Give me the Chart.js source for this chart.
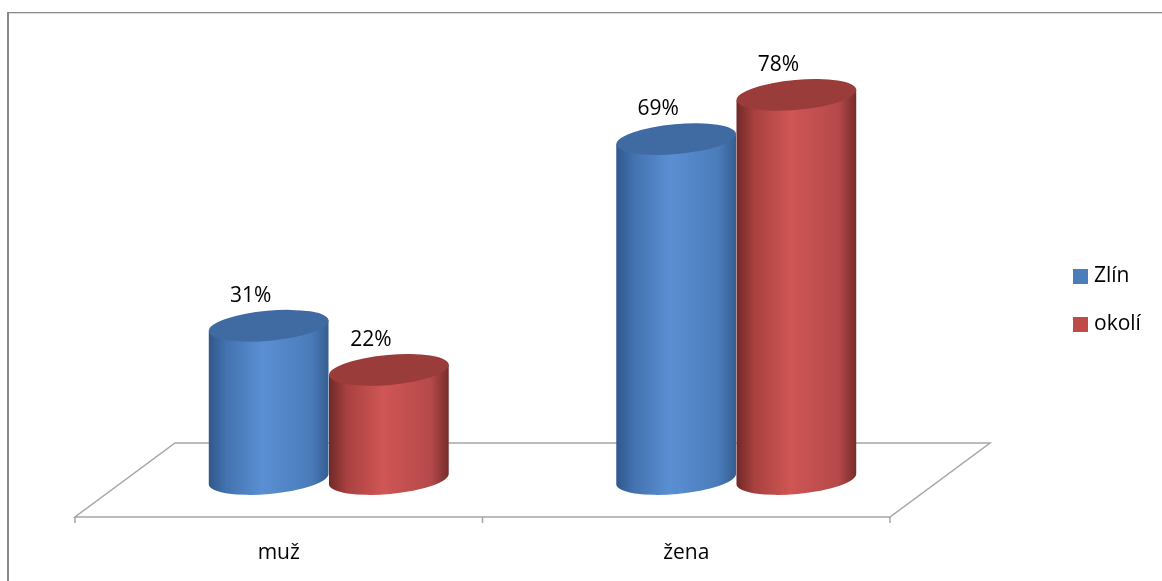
<!DOCTYPE html>
<html>
<head>
<meta charset="utf-8">
<script src="https://cdn.jsdelivr.net/npm/chart.js@4"></script>
<style>
  html, body { margin: 0; padding: 0; background: #fff; }
</style>
</head>
<body>
<canvas id="myCanvas" width="1162" height="581"></canvas>
<script>
const categories = ['muž', 'žena']
const seriesNames = ['Zlín', 'okolí']
const zlinValues = [31, 69]
const okoliValues = [22, 78]

const FONT = '"Open Sans", "Liberation Sans", sans-serif'

// side gradient stops + top colour per series
const shades = [
  { flat: '#4a7ebb', top: '#3f6ba2', side: ['#30578a', '#4373b0', '#5a8fd3', '#4a7cba', '#355d90'] },
  { flat: '#be4b48', top: '#9a3c3a', side: ['#6e2927', '#a8413f', '#cf5654', '#b6494a', '#742c2a'] }
]

function drawFloor(ctx, area, depth, drop) {
  const l = area.left, r = area.right, b = area.bottom
  ctx.save()
  ctx.strokeStyle = '#a6a6a6'
  ctx.lineWidth = 1.5
  ctx.beginPath()
  ctx.moveTo(l + depth, b - drop)
  ctx.lineTo(r + depth, b - drop)
  ctx.lineTo(r - depth, b + drop + 4)
  ctx.lineTo(l - depth, b + drop + 4)
  ctx.closePath()
  ctx.stroke()
  ctx.restore()
}

function drawCylinder(ctx, bar, shade) {
  const x = bar.x, rx = bar.width / 2, top = bar.y, base = bar.base + 1
  const ry = 15, rot = -0.09
  const c = Math.cos(rot), s = Math.sin(rot)

  const g = ctx.createLinearGradient(x - rx, 0, x + rx, 0)
  const stops = [0, 0.15, 0.45, 0.85, 1]
  stops.forEach((p, i) => g.addColorStop(p, shade.side[i]))

  ctx.save()
  ctx.beginPath()
  ctx.moveTo(x - rx * c, top - rx * s)
  ctx.lineTo(x - rx * c, base - rx * s)
  ctx.ellipse(x, base, rx, ry, rot, Math.PI, 0, true)
  ctx.lineTo(x + rx * c, top + rx * s)
  ctx.closePath()
  ctx.fillStyle = g
  ctx.fill()

  ctx.beginPath()
  ctx.ellipse(x, top, rx, ry, rot, 0, Math.PI * 2)
  ctx.fillStyle = shade.top
  ctx.fill()
  ctx.restore()
}

const cylinderPlugin = {
  id: 'cylinders',
  beforeDatasetsDraw(chart) {
    const area = chart.chartArea
    drawFloor(chart.ctx, area, 50, 35)
    // category tick marks on the front edge
    const ctx = chart.ctx
    const step = (area.right - area.left) / categories.length
    ctx.save()
    ctx.strokeStyle = '#a6a6a6'
    ctx.lineWidth = 1.5
    for (let i = 0; i <= categories.length; i++) {
      const px = area.left + i * step - 50
      ctx.beginPath()
      ctx.moveTo(px, area.bottom + 39)
      ctx.lineTo(px, area.bottom + 45)
      ctx.stroke()
    }
    ctx.restore()
  },
  beforeDatasetDraw() {
    return false
  },
  afterDatasetsDraw(chart) {
    const ctx = chart.ctx
    chart.data.datasets.forEach((ds, di) => {
      const meta = chart.getDatasetMeta(di)
      meta.data.forEach(bar => drawCylinder(ctx, bar, shades[di]))
    })
    ctx.save()
    ctx.fillStyle = '#000'
    ctx.font = '21px ' + FONT
    ctx.textAlign = 'center'
    ctx.textBaseline = 'middle'
    chart.data.datasets.forEach((ds, di) => {
      const meta = chart.getDatasetMeta(di)
      meta.data.forEach((bar, i) => {
        ctx.fillText(ds.data[i] + '%', bar.x - 18, bar.y - 30)
      })
    })
    ctx.restore()
  },
  afterDraw(chart) {
    const ctx = chart.ctx
    ctx.save()
    // outer frame
    ctx.fillStyle = '#8a8a8a'
    ctx.fillRect(7, 12, 1155, 1.3)
    ctx.fillRect(7, 12, 2, 569)
    // legend
    ctx.font = '21px ' + FONT
    ctx.textBaseline = 'middle'
    chart.data.datasets.forEach((ds, di) => {
      const cy = 276 + di * 48
      ctx.fillStyle = shades[di].flat
      ctx.fillRect(1073, cy - 7, 15, 15)
      ctx.fillStyle = '#000'
      ctx.fillText(ds.label, 1094, cy)
    })
    ctx.restore()
  }
}

new Chart(document.getElementById('myCanvas').getContext('2d'), {
  type: 'bar',
  data: {
    labels: categories,
    datasets: [
      { label: seriesNames[0], data: zlinValues, backgroundColor: shades[0].flat },
      { label: seriesNames[1], data: okoliValues, backgroundColor: shades[1].flat }
    ]
  },
  options: {
    responsive: false,
    animation: false,
    layout: { padding: { left: 125, right: 222, top: 36, bottom: 17 } },
    datasets: { bar: { categoryPercentage: 0.59, barPercentage: 1.0 } },
    plugins: {
      legend: { display: false },
      tooltip: { enabled: false }
    },
    scales: {
      x: {
        grid: { display: false, drawTicks: false },
        border: { display: false },
        ticks: { color: '#000', font: { size: 21, family: FONT }, labelOffset: -50, padding: 62 },
        afterFit: s => { s.height = 86 }
      },
      y: { display: false, min: 0, max: 90 }
    }
  },
  plugins: [cylinderPlugin]
})
</script>
</body>
</html>
